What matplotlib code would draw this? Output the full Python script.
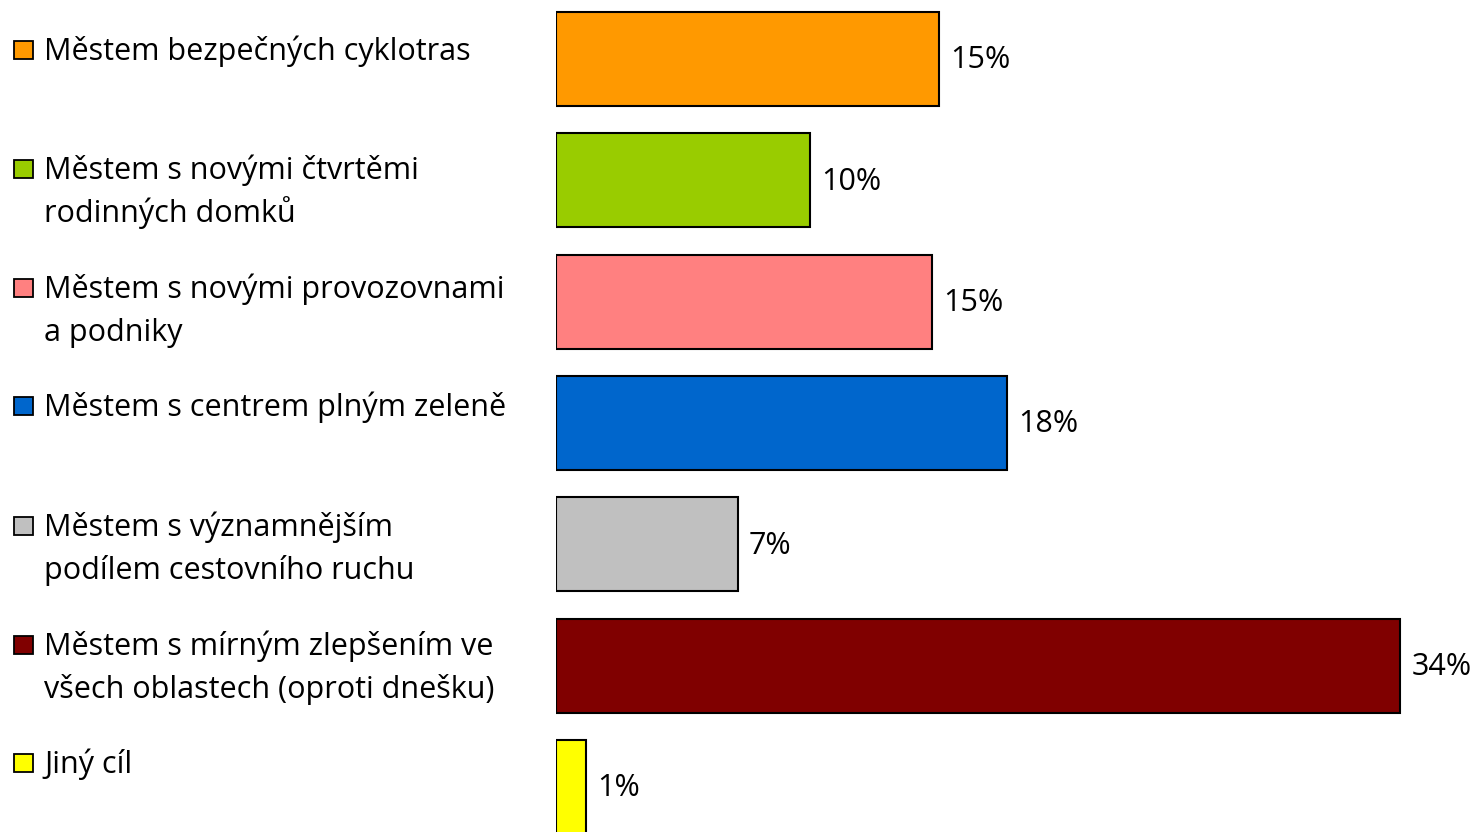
import matplotlib.pyplot as plt
from matplotlib.patches import Rectangle

plt.rcParams['font.family'] = ['Open Sans', 'DejaVu Sans']

# data
labels = [
    "Městem bezpečných cyklotras",
    "Městem s novými čtvrtěmi\nrodinných domků",
    "Městem s novými provozovnami\na podniky",
    "Městem s centrem plným zeleně",
    "Městem s významnějším\npodílem cestovního ruchu",
    "Městem s mírným zlepšením ve\nvšech oblastech (oproti dnešku)",
    "Jiný cíl",
]
values = [15.4, 10.2, 15.1, 18.1, 7.3, 33.9, 1.2]
value_labels = ["15%", "10%", "15%", "18%", "7%", "34%", "1%"]
colors = ["#FF9900", "#99CC00", "#FF8080", "#0066CC", "#C0C0C0", "#800000", "#FFFF00"]

W, H = 1475, 832
fig = plt.figure(figsize=(W / 100, H / 100), dpi=100)
ax = fig.add_axes([556 / W, 0, 1 - 556 / W, 1])

pos = list(range(len(values)))
ax.barh(pos, values, height=0.775, color=colors, edgecolor="black", linewidth=1.5)
ax.set_xlim(0, (W - 556) / 24.9)
ax.set_ylim(6.371, -0.486)
ax.axis("off")

for p, v, t in zip(pos, values, value_labels):
    ax.annotate(t, (v, p), xytext=(8, -1), textcoords="offset points",
                va="center", ha="left", fontsize=22)

# legend drawn by hand so the marker sits on the first line
leg_y = [50, 169, 288, 406, 526, 645, 763]
for lab, c, y in zip(labels, colors, leg_y):
    fig.patches.append(Rectangle((14 / W, 1 - (y + 9) / H), 19 / W, 18 / H,
                                 transform=fig.transFigure, facecolor=c,
                                 edgecolor="black", linewidth=1.3))
    for i, line in enumerate(lab.split("\n")):
        fig.text(44 / W, 1 - (y + 10 + 43 * i) / H, line, ha="left",
                 va="baseline", fontsize=22)

fig.savefig("out.png", dpi=100)
